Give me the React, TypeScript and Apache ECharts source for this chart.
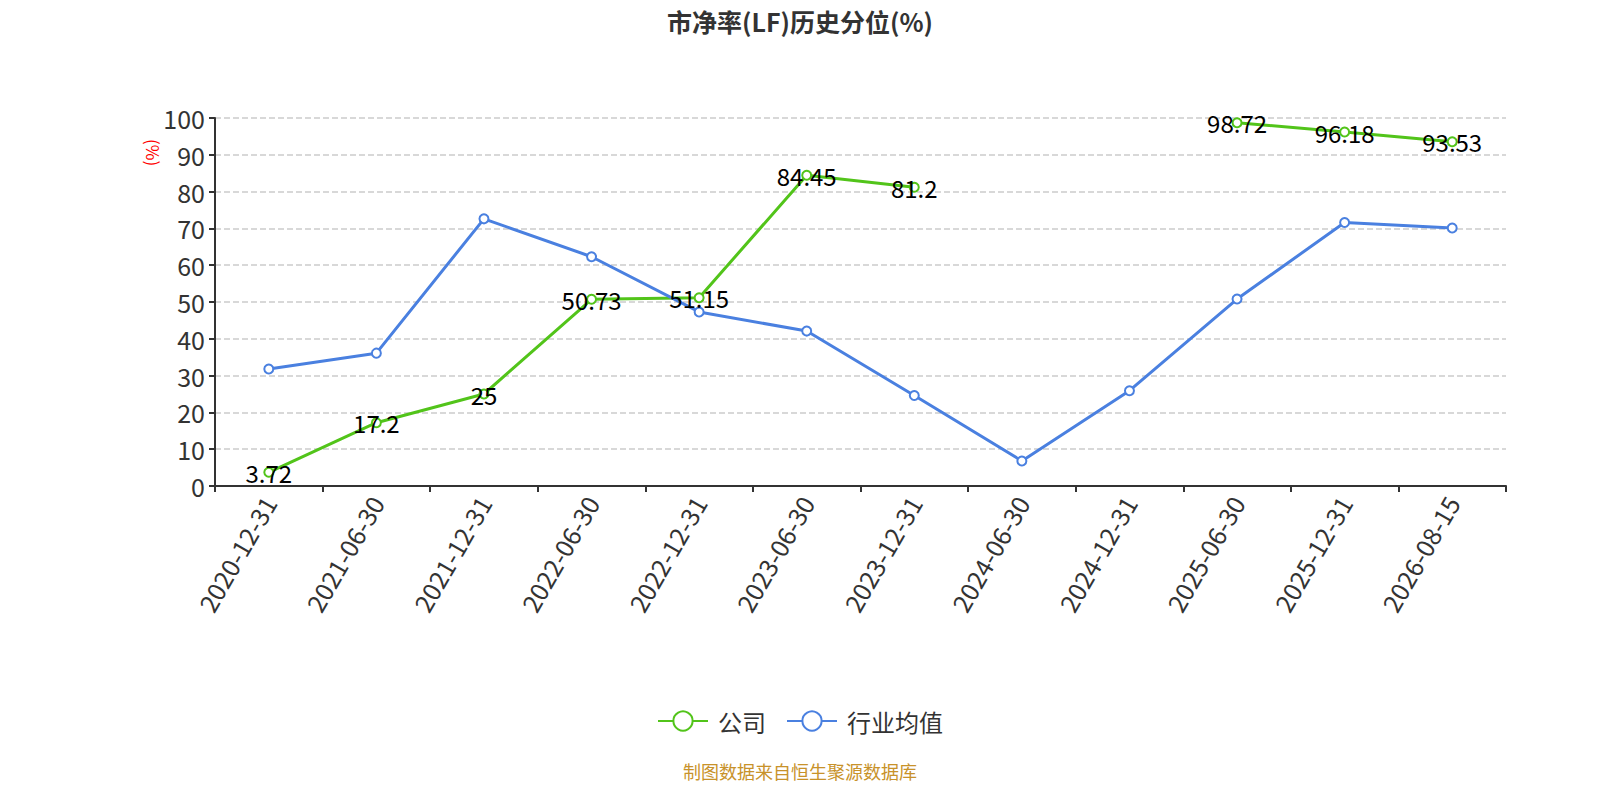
import React, { useEffect, useRef } from "react";
import * as echarts from "echarts";

const categories = [
  "2020-12-31", "2021-06-30", "2021-12-31", "2022-06-30", "2022-12-31", "2023-06-30",
  "2023-12-31", "2024-06-30", "2024-12-31", "2025-06-30", "2025-12-31", "2026-08-15",
];
const companyValues = [3.72, 17.2, 25, 50.73, 51.15, 84.45, 81.2, null, null, 98.72, 96.18, 93.53];
const industryValues = [31.8, 36.1, 72.6, 62.3, 47.3, 42.1, 24.6, 6.8, 25.9, 50.8, 71.6, 70.1];
const yTicks = { min: 0, max: 100, interval: 10 };

const FONT = "'Noto Sans CJK SC', 'Noto Sans', sans-serif";

export default function App() {
  const ref = useRef<HTMLDivElement>(null);
  useEffect(() => {
    document.body.style.margin = "0";
    if (!ref.current) return;
    const chart = echarts.init(ref.current, undefined, { renderer: "svg" });
    chart.setOption({
      animation: false,
      textStyle: { fontFamily: FONT },
      title: {
        text: "市净率(LF)历史分位(%)",
        left: "center",
        top: 3,
        textStyle: { fontSize: 25, fontWeight: "bold", color: "#333", fontFamily: FONT },
      },
      grid: { left: 215, right: 94, top: 118, bottom: 314 },
      legend: {
        top: 704,
        left: "center",
        itemWidth: 50,
        itemHeight: 24,
        itemGap: 20,
        textStyle: { fontSize: 24, color: "#333", fontFamily: FONT, padding: [0, 0, 0, 5] },
        data: ["公司", "行业均值"],
      },
      xAxis: {
        type: "category",
        data: categories,
        boundaryGap: true,
        axisLine: { lineStyle: { color: "#333", width: 2 } },
        axisTick: { show: true, alignWithLabel: false, length: 6, lineStyle: { color: "#333", width: 2 } },
        axisLabel: { rotate: 60, fontSize: 25, color: "#333", margin: 12, interval: 0, fontFamily: FONT },
      },
      yAxis: {
        type: "value",
        min: yTicks.min,
        max: yTicks.max,
        interval: yTicks.interval,
        axisLine: { show: true, lineStyle: { color: "#333", width: 2 } },
        axisTick: { show: true, length: 6, lineStyle: { color: "#333", width: 2 } },
        axisLabel: { fontSize: 25, color: "#333", margin: 10, fontFamily: FONT },
        splitLine: { lineStyle: { type: "dashed", color: "#ccc", width: 1.5 } },
      },
      graphic: [
        {
          type: "text",
          x: 153,
          y: 139,
          rotation: -Math.PI / 2,
          style: { text: "(%)", fill: "#ff0000", fontSize: 17, fontFamily: FONT, textAlign: "left", textVerticalAlign: "middle" },
        },
        {
          type: "text",
          left: "center",
          top: 762,
          style: { text: "制图数据来自恒生聚源数据库", fill: "#c8922a", fontSize: 18, fontFamily: FONT },
        },
      ],
      series: [
        {
          name: "公司",
          type: "line",
          data: companyValues,
          connectNulls: false,
          symbol: "emptyCircle",
          symbolSize: 9,
          color: "#52c41a",
          lineStyle: { width: 3, color: "#52c41a" },
          itemStyle: { color: "#52c41a" },
          label: { show: true, position: "inside", fontSize: 24, color: "#000", fontFamily: FONT },
        },
        {
          name: "行业均值",
          type: "line",
          data: industryValues,
          symbol: "emptyCircle",
          symbolSize: 9,
          color: "#4a80e0",
          lineStyle: { width: 3, color: "#4a80e0" },
          itemStyle: { color: "#4a80e0" },
        },
      ],
    });
    return () => chart.dispose();
  }, []);
  return <div ref={ref} style={{ width: 1600, height: 800 }} />;
}
